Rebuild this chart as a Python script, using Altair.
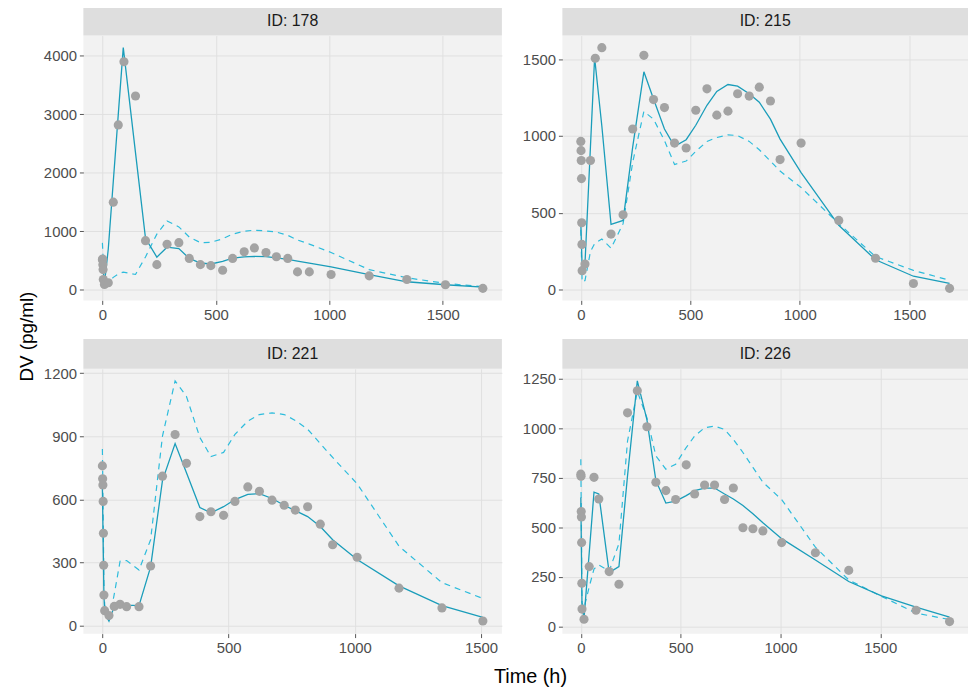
import altair as alt
import pandas as pd

FONT = "Liberation Sans"

# ---------------- data ----------------
# ID 178
t178 = [0, 1, 2, 3, 4, 9, 26, 48, 70, 95, 146, 190, 240, 285, 337, 383, 432, 478, 530, 574,
        625, 670, 721, 767, 817, 860, 912, 1008, 1176, 1342, 1512, 1677]
dv178 = [512, 523, 428, 343, 174, 90, 118, 1497, 2819, 3899, 3314, 838, 428, 776, 804, 534, 428,
         411, 332, 534, 647, 714, 636, 563, 534, 304, 304, 259, 236, 174, 84, 22]
lt178 = [0, 9, 26, 48, 70, 92, 146, 190, 240, 285, 337, 383, 432, 478, 530, 574, 625, 670, 721,
         767, 817, 860, 912, 1008, 1176, 1342, 1512, 1677]
ip178 = [520, 100, 700, 1850, 3000, 4141, 2340, 877, 557, 726, 703, 534, 456, 439, 484, 540, 560,
         568, 565, 545, 520, 490, 455, 388, 259, 135, 84, 45]
pr178 = [800, 60, 130, 210, 270, 300, 260, 560, 950, 1176, 1074, 900, 804, 810, 870, 951, 1000,
         1018, 1005, 985, 930, 850, 780, 636, 343, 203, 107, 51]

# ID 215
t215 = [0, 1, 2, 3, 4, 5, 6, 19, 44, 66, 96, 138, 193, 237, 288, 332, 382, 428, 481, 525, 576,
        621, 672, 716, 769, 815, 866, 910, 1006, 1178, 1346, 1519, 1684]
dv215 = [965, 905, 841, 723, 436, 295, 124, 167, 841, 1506, 1575, 362, 488, 1046, 1525, 1237, 1185,
         954, 922, 1168, 1307, 1136, 1162, 1275, 1260, 1318, 1228, 847, 954, 451, 205, 41, 9]
lt215 = [0, 6, 19, 44, 63, 96, 138, 193, 237, 288, 332, 382, 428, 481, 525, 576, 621, 672, 716,
         769, 815, 866, 910, 1006, 1178, 1346, 1519, 1684]
ip215 = [430, 150, 170, 930, 1510, 1065, 426, 451, 930, 1418, 1241, 1046, 933, 976, 1070, 1200,
         1290, 1335, 1324, 1275, 1220, 1110, 980, 762, 419, 195, 88, 41]
pr215 = [390, 50, 60, 248, 300, 330, 270, 430, 830, 1160, 1110, 970, 815, 837, 900, 965, 990,
         1008, 1003, 965, 911, 837, 772, 665, 430, 216, 126, 62]

# ID 221
t221 = [0, 1, 2, 3, 4, 5, 6, 9, 26, 47, 70, 96, 145, 191, 238, 288, 333, 386, 430, 480, 525,
        576, 622, 672, 720, 764, 813, 863, 912, 1009, 1175, 1345, 1507]
dv221 = [760, 699, 669, 591, 440, 288, 146, 72, 49, 92, 102, 91, 91, 284, 711, 909, 772, 519, 542,
         525, 591, 660, 639, 597, 573, 550, 566, 483, 385, 326, 179, 85, 23]
lt221 = [0, 6, 9, 26, 47, 70, 96, 145, 191, 238, 288, 333, 386, 430, 480, 525, 576, 622, 672,
         720, 764, 813, 863, 912, 1009, 1175, 1345, 1507]
ip221 = [650, 150, 60, 22, 92, 100, 98, 96, 280, 691, 866, 727, 562, 537, 566, 600, 625, 628,
         605, 573, 547, 519, 472, 409, 315, 190, 96, 40]
pr221 = [840, 200, 100, 20, 150, 307, 310, 265, 409, 902, 1164, 1090, 895, 804, 824, 910, 973,
         1004, 1012, 1004, 976, 934, 866, 800, 675, 378, 205, 130]

# ID 226
t226 = [0, 1, 2, 3, 4, 5, 6, 16, 42, 66, 90, 142, 191, 234, 283, 331, 376, 426, 475, 528, 570,
        620, 670, 720, 764, 812, 862, 912, 1006, 1175, 1342, 1679, 1847]
dv226 = [768, 757, 580, 552, 423, 218, 88, 37, 302, 752, 643, 277, 213, 1077, 1188, 1007, 727, 685,
         640, 815, 668, 713, 713, 640, 698, 498, 493, 482, 423, 372, 283, 82, 25]
lt226 = [0, 6, 16, 42, 66, 90, 142, 191, 234, 283, 331, 376, 426, 475, 528, 570, 620, 670, 720,
         764, 812, 862, 912, 1006, 1175, 1342, 1506, 1679, 1847]
ip226 = [650, 100, 40, 370, 677, 668, 272, 302, 760, 1238, 1043, 735, 622, 632, 660, 685, 698,
         698, 668, 643, 610, 568, 523, 443, 335, 227, 155, 98, 48]
pr226 = [843, 120, 93, 200, 290, 310, 280, 418, 935, 1185, 1052, 860, 793, 818, 902, 960, 1002,
         1010, 993, 943, 877, 802, 727, 640, 400, 235, 152, 68, 35]

xt = [0, 500, 1000, 1500]
yt178 = [0, 1000, 2000, 3000, 4000]
yt215 = [0, 500, 1000, 1500]
yt221 = [0, 300, 600, 900, 1200]
yt226 = [0, 250, 500, 750, 1000, 1250]

W_L, W_R, H = 422, 409, 267
STRIP = 30


def expand(vals):
    lo, hi = min(vals), max(vals)
    d = (hi - lo) * 0.05
    return [lo - d, hi + d]


def panel(label, ot, odv, lt, ip, pr, yticks, xticks, width):
    obs = pd.DataFrame({"time": ot, "dv": odv})
    ln = pd.DataFrame({"time": lt, "ipred": ip, "pred": pr})
    xs = alt.Scale(domain=expand(ot + lt), nice=False, zero=False)
    ys = alt.Scale(domain=expand(odv + ip + pr), nice=False, zero=False)
    xax = alt.Axis(values=xticks, title=None, format="d")
    yax = alt.Axis(values=yticks, title=None, format="d")
    lab = pd.DataFrame({"lab": [f"ID: {label}"]})
    strip = alt.Chart(lab).mark_rect(color="#DEDEDE").encode(
        x=alt.value(0), x2=alt.value(width), y=alt.value(-STRIP), y2=alt.value(0))
    strip_txt = alt.Chart(lab).mark_text(font=FONT, fontSize=16, color="#1A1A1A",
                                         baseline="middle").encode(
        text="lab:N", x=alt.value(width / 2), y=alt.value(-STRIP / 2))
    dashed = alt.Chart(ln).mark_line(color="#2DBCDC", strokeWidth=1.2, strokeDash=[6, 5]).encode(
        x=alt.X("time:Q", scale=xs, axis=xax), y=alt.Y("pred:Q", scale=ys, axis=yax))
    solid = alt.Chart(ln).mark_line(color="#1A9DBA", strokeWidth=1.3).encode(
        x=alt.X("time:Q", scale=xs, axis=xax), y=alt.Y("ipred:Q", scale=ys, axis=yax))
    pts = alt.Chart(obs).mark_circle(size=85, color="#A3A3A3", opacity=1).encode(
        x=alt.X("time:Q", scale=xs, axis=xax), y=alt.Y("dv:Q", scale=ys, axis=yax))
    return alt.layer(strip, strip_txt, dashed, solid, pts).properties(width=width, height=H)


p1 = panel("178", t178, dv178, lt178, ip178, pr178, yt178, xt, W_L)
p2 = panel("215", t215, dv215, lt215, ip215, pr215, yt215, xt, W_R)
p3 = panel("221", t221, dv221, lt221, ip221, pr221, yt221, xt, W_L)
p4 = panel("226", t226, dv226, lt226, ip226, pr226, yt226, xt, W_R)

grid = alt.concat(p1, p2, p3, p4, columns=2, spacing={"row": 17, "column": 20}).properties(
    title=alt.TitleParams("Time (h)", orient="bottom", anchor="middle", fontSize=20,
                          fontWeight="normal", font=FONT, color="#000000", offset=12, dx=25))

chart = alt.hconcat(grid).properties(
    title=alt.TitleParams("DV (pg/ml)", orient="left", anchor="middle", fontSize=19,
                          fontWeight="normal", font=FONT, color="#000000", offset=6, dx=10),
    padding={"left": 10, "top": -5, "right": 0, "bottom": 0},
).configure_view(fill="#F2F2F2", strokeWidth=0).configure_axis(
    grid=True, gridColor="#E0E0E0", gridWidth=1, domain=False, tickColor="#555555",
    tickSize=4, labelFont=FONT, labelFontSize=15, labelColor="#4D4D4D", labelPadding=3,
).configure_concat(spacing=0)

chart.save("out.html", embed_options={"renderer": "svg", "actions": False})
